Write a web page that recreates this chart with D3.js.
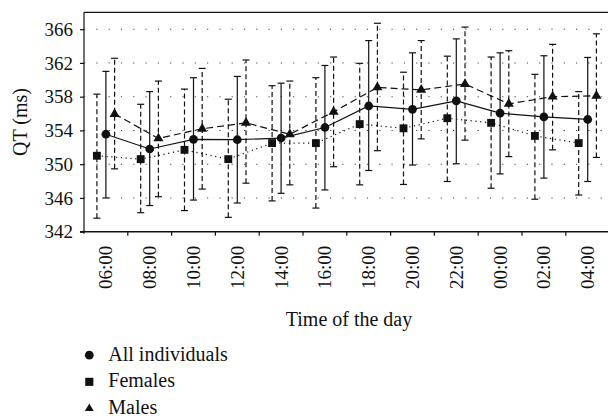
<!DOCTYPE html>
<html><head><meta charset="utf-8">
<script src="https://cdn.jsdelivr.net/npm/d3@7"></script>
<style>
body{margin:0;background:#fff;}
svg{display:block;font-family:"Liberation Serif","DejaVu Serif",serif;}
</style></head>
<body><svg id="c" width="608" height="417"></svg>
<script>
const times = ["06:00","08:00","10:00","12:00","14:00","16:00","18:00","20:00","22:00","00:00","02:00","04:00"];
const yTicks = [342,346,350,354,358,362,366];

const allMean  = [353.55,351.8,352.95,352.9,353.1,354.35,356.9,356.5,357.5,356.05,355.6,355.3];
const allLow   = [346.0,345.1,345.75,345.4,346.55,346.95,349.25,349.9,350.05,348.85,348.35,347.95];
const allHigh  = [361.0,358.6,360.25,360.4,359.6,361.7,364.65,363.2,364.85,363.2,362.85,362.65];

const femMean  = [351.0,350.6,351.7,350.6,352.5,352.5,354.75,354.25,355.45,354.9,353.35,352.5];
const femLow   = [343.6,344.25,344.5,343.7,345.65,344.8,347.55,347.6,347.95,347.15,345.85,346.35];
const femHigh  = [358.3,357.1,358.9,357.7,359.3,360.25,361.95,360.9,362.8,362.7,360.65,358.6];

const maleMean = [355.95,353.05,354.2,354.9,353.55,356.2,359.1,358.8,359.5,357.15,358.0,358.1];
const maleLow  = [349.45,346.15,347.05,347.75,347.55,349.7,351.6,353.0,352.85,350.9,351.7,350.8];
const maleHigh = [362.55,359.85,361.35,362.35,359.85,362.7,366.7,364.65,366.25,363.45,364.2,365.45];

const series = [
  {name:"Females", mean:femMean, low:femLow, high:femHigh, off:-9, line:"1.2,3.6", bar:"5,3", sym:d3.symbolSquare, size:62, lsize:66},
  {name:"All individuals", mean:allMean, low:allLow, high:allHigh, off:0, line:null, bar:null, sym:d3.symbolCircle, size:60, lsize:60},
  {name:"Males", mean:maleMean, low:maleLow, high:maleHigh, off:8.7, line:"7,4", bar:"5,3", sym:d3.symbolTriangle, size:44, lsize:34}
];

const svg = d3.select("#c");
const L=84, T=12.3, B=231.7;
const band = 43.8;
const x = d3.scaleBand().domain(times).range([L, L+band*times.length]).padding(0);
const y = d3.scaleLinear().domain([342,368]).range([B,T]);
const cx = (i,off)=> x(times[i]) + x.bandwidth()/2 + off;

// grid
svg.append("g").selectAll("line").data(yTicks.slice(1)).join("line")
  .attr("x1",L).attr("x2",608).attr("y1",d=>y(d)).attr("y2",d=>y(d))
  .attr("stroke","#444").attr("stroke-width",1.1).attr("stroke-dasharray","1.2,11.1");

// frame
svg.append("line").attr("x1",L).attr("x2",608).attr("y1",T).attr("y2",T).attr("stroke","#111").attr("stroke-width",1.2);

// axes
const yAxis = d3.axisLeft(y).tickValues(yTicks).tickSize(4).tickPadding(7).tickFormat(d3.format("d"));
const gy = svg.append("g").attr("transform",`translate(${L},0)`).call(yAxis);
gy.select(".domain").attr("stroke","#111").attr("stroke-width",1.2).attr("d",`M-0,${B+2}V${T}`);
gy.selectAll(".tick line").attr("stroke","#111").attr("stroke-width",1.2);
gy.selectAll("text").attr("font-size",19).attr("fill","#111").attr("font-family","Liberation Serif");

const xTickScale = d3.scaleLinear().domain([0,times.length]).range([L, L+band*times.length]);
const gx = svg.append("g").attr("transform",`translate(0,${B})`);
gx.append("line").attr("x1",L-4).attr("x2",608).attr("y1",0).attr("y2",0).attr("stroke","#111").attr("stroke-width",1.4);
gx.selectAll(".tk").data(d3.range(1,times.length)).join("line").attr("class","tk")
  .attr("x1",d=>xTickScale(d)).attr("x2",d=>xTickScale(d)).attr("y1",0).attr("y2",4)
  .attr("stroke","#111").attr("stroke-width",1.2);
gx.selectAll(".lb").data(times).join("text").attr("class","lb")
  .attr("transform",d=>`translate(${x(d)+x.bandwidth()/2},14) rotate(-90)`)
  .attr("text-anchor","end").attr("dy","0.34em")
  .attr("font-size",19).attr("fill","#111").text(d=>d);

// axis titles
svg.append("text").attr("transform","translate(20,122) rotate(-90)").attr("text-anchor","middle")
  .attr("dy","0.34em").attr("font-size",20).attr("fill","#111").text("QT (ms)");
svg.append("text").attr("x",349).attr("y",326).attr("text-anchor","middle")
  .attr("font-size",20).attr("fill","#111").text("Time of the day");

// lines
series.forEach(s=>{
  const line = d3.line().x((d,i)=>cx(i,s.off)).y(d=>y(d));
  svg.append("path").datum(s.mean).attr("d",line).attr("fill","none")
    .attr("stroke","#111").attr("stroke-width",1.2)
    .attr("stroke-dasharray",s.line);
});
// error bars
series.forEach(s=>{
  const g = svg.append("g");
  s.mean.forEach((m,i)=>{
    const xx = cx(i,s.off);
    g.append("line").attr("x1",xx).attr("x2",xx).attr("y1",y(s.low[i])).attr("y2",y(s.high[i]))
      .attr("stroke","#111").attr("stroke-width",1.2).attr("stroke-dasharray",s.bar);
    [s.low[i],s.high[i]].forEach(v=>{
      g.append("line").attr("x1",xx-3.5).attr("x2",xx+3.5).attr("y1",y(v)).attr("y2",y(v))
        .attr("stroke","#111").attr("stroke-width",1.2);
    });
  });
});
// markers
series.forEach(s=>{
  svg.append("g").selectAll("path").data(s.mean).join("path")
    .attr("transform",(d,i)=>`translate(${cx(i,s.off)},${y(d)})`)
    .attr("d",d3.symbol().type(s.sym).size(s.size)).attr("fill","#111");
});

// legend
const legendOrder = [series[1],series[0],series[2]];
const lg = svg.append("g");
legendOrder.forEach((s,i)=>{
  const base = 360.7 + i*26.65;
  lg.append("path").attr("transform",`translate(89.3,${base-5.5})`)
    .attr("d",d3.symbol().type(s.sym).size(s.lsize)).attr("fill","#111");
  lg.append("text").attr("x",108.3).attr("y",base).attr("font-size",20).attr("fill","#111").text(s.name);
});
</script></body></html>
